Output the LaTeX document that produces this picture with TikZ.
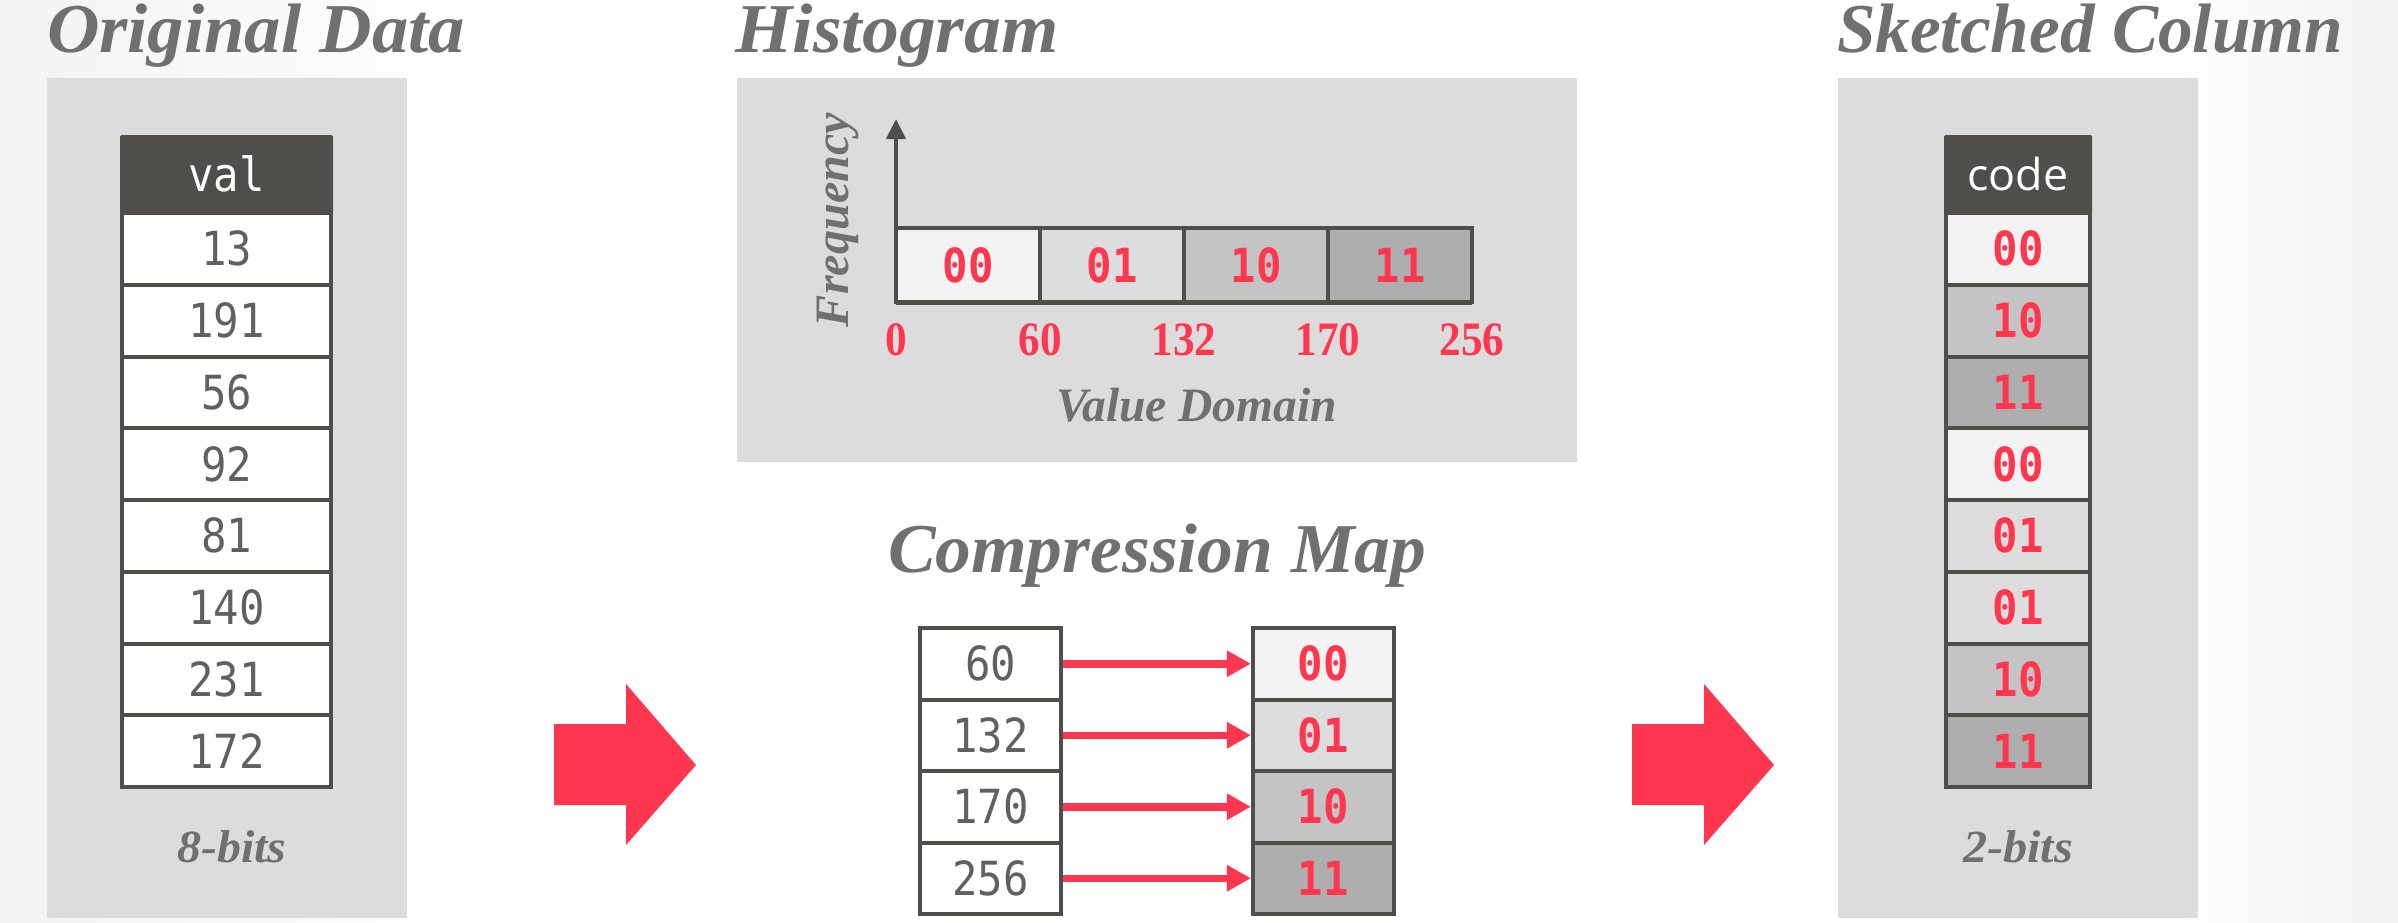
\documentclass[tikz,border=0pt]{standalone}
\usepackage{fontspec}
\setmainfont{Liberation Serif}
\newfontfamily\monof[FakeStretch=0.9]{DejaVu Sans Mono}
\newfontfamily\sansf{Open Sans}
\usetikzlibrary{arrows.meta}
\definecolor{panel}{HTML}{DCDCDC}
\definecolor{dk}{HTML}{4F4E4A}
\definecolor{ttlc}{HTML}{707070}
\definecolor{numc}{HTML}{606060}
\definecolor{redc}{HTML}{FF3650}
\definecolor{cA}{HTML}{F3F3F3}
\definecolor{cB}{HTML}{DDDDDD}
\definecolor{cC}{HTML}{C4C4C4}
\definecolor{cD}{HTML}{AEAEAE}
\definecolor{bgl}{HTML}{F3F3F3}
\newsavebox\fitbox
\newcommand\xfit[2]{\sbox\fitbox{#2}\edef\fitsc{\fpeval{round(#1/(\the\wd\fitbox),4)}}\scalebox{\fitsc}[1]{\usebox\fitbox}}
\newcommand\ttlfont{\bfseries\itshape}
\begin{document}
\begin{tikzpicture}[x=1pt,y=-1pt,
  title/.style={anchor=base, inner sep=0pt, text=ttlc, font=\ttlfont\fontsize{70}{80}\selectfont},
  sub/.style={anchor=base, inner sep=0pt, text=ttlc, font=\ttlfont\fontsize{46}{50}\selectfont},
  hdr/.style={fill=dk, rounded corners=2pt, minimum height=78pt, inner sep=0pt, text=white},
  valcell/.style={draw=dk, line width=4pt, fill=white, minimum width=209pt, minimum height=71.75pt, inner sep=0pt, text=numc, font=\monof\fontsize{47}{50}\selectfont},
  codecell/.style={draw=dk, line width=4pt, minimum width=144pt, minimum height=71.75pt, inner sep=0pt, text=redc, font=\monof\bfseries\fontsize{47}{50}\selectfont},
  mapl/.style={draw=dk, line width=4pt, fill=white, minimum width=141pt, minimum height=71.5pt, inner sep=0pt, text=numc, font=\monof\fontsize{47}{50}\selectfont},
  mapr/.style={draw=dk, line width=4pt, minimum width=141pt, minimum height=71.5pt, inner sep=0pt, text=redc, font=\monof\bfseries\fontsize{47}{50}\selectfont},
  bar/.style={draw=dk, line width=4.5pt, minimum width=144pt, minimum height=74pt, inner sep=0pt, text=redc, font=\monof\bfseries\fontsize{47}{50}\selectfont},
  tick/.style={inner sep=0pt, text=redc, font=\bfseries\fontsize{48}{50}\selectfont},
  maparrow/.style={draw=redc, line width=7.5pt, -{Triangle[length=24pt,width=25pt]}},
  bigarrow/.style={fill=redc}
]
\useasboundingbox (0,0) rectangle (2398,922);
% background
\fill[white] (0,0) rectangle (2398,922);
\shade[left color=bgl, right color=white] (0,0) rectangle (480,922);
\shade[left color=white, right color=bgl] (2150,0) rectangle (2398,922);
% panels
\fill[panel] (47,78) rectangle (407,918);
\fill[panel] (737,78) rectangle (1577,462);
\fill[panel] (1838,78) rectangle (2198,918);
% titles
\node[title] (t1) at (256,52) {\xfit{418}{Original Data}};
\node[title] (t2) at (897,52) {\xfit{323}{Histogram}};
\node[title] (t3) at (2090,52) {\xfit{506}{Sketched Column}};
\node[title] (t4) at (1157,572) {\xfit{538}{Compression Map}};
% original data table
\node[hdr, minimum width=213pt, font=\monof\fontsize{47}{50}\selectfont] (vh) at (226.5,174) {val};
\foreach \v [count=\i] in {13,191,56,92,81,140,231,172}
  \node[valcell] (v\i) at (226.5,{213+71.75*(\i-0.5)}) {\v};
\node[sub] (b8) at (232,862) {\xfit{109}{8-bits}};
% sketched column
\node[hdr, minimum width=148pt, font=\sansf\fontsize{44}{50}\selectfont] (ch) at (2018,174) {\xfit{101}{code}};
\foreach \c/\f [count=\i] in {00/cA,10/cC,11/cD,00/cA,01/cB,01/cB,10/cC,11/cD}
  \node[codecell, fill=\f] (c\i) at (2018,{213+71.75*(\i-0.5)}) {\c};
\node[sub] (b2) at (2018,862) {\xfit{110}{2-bits}};
% histogram
\foreach \c/\f/\x [count=\i] in {00/cA/968,01/cB/1112,10/cC/1256,11/cD/1400}
  \node[bar, fill=\f] (h\i) at (\x,265) {\raisebox{-4pt}{\c}};
\coordinate (ax0) at (896,302);
\coordinate (ax1) at (896,119);
\coordinate (ax2) at (1472,302);
\draw[dk, line width=4pt, -{Triangle[length=20pt,width=19pt]}] (ax0) -- (ax1);
\draw[dk, line width=5pt] (ax0) -- (ax2);
\foreach \t/\x [count=\i] in {0/896,60/1040,132/1184,170/1328,256/1472}
  \node[tick] (k\i) at (\x,340) {\scalebox{0.9}[1]{\t}};
\node[inner sep=0pt, text=ttlc, font=\ttlfont\fontsize{48}{50}\selectfont] (vd) at (1196.5,405) {\xfit{281}{Value Domain}};
\node[inner sep=0pt, rotate=90, text=ttlc, font=\ttlfont\fontsize{48}{50}\selectfont] (fq) at (838,220) {\xfit{214}{Frequency}};
% compression map
\foreach \a/\c/\f [count=\i] in {60/00/cA,132/01/cB,170/10/cC,256/11/cD}{
  \node[mapl] (m\i) at (990.5,{628+71.5*(\i-0.5)}) {\a};
  \node[mapr, fill=\f] (r\i) at (1323.4,{628+71.5*(\i-0.5)}) {\c};
}
\foreach \i in {1,...,4}
  \draw[maparrow] (m\i.east) -- (r\i.west);
% big arrows
\fill[bigarrow] (554,724) -- (626,724) -- (626,684) -- (696,765) -- (626,845) -- (626,805) -- (554,805) -- cycle;
\fill[bigarrow] (1632,724) -- (1704,724) -- (1704,684) -- (1774,765) -- (1704,845) -- (1704,805) -- (1632,805) -- cycle;
\end{tikzpicture}
\end{document}
